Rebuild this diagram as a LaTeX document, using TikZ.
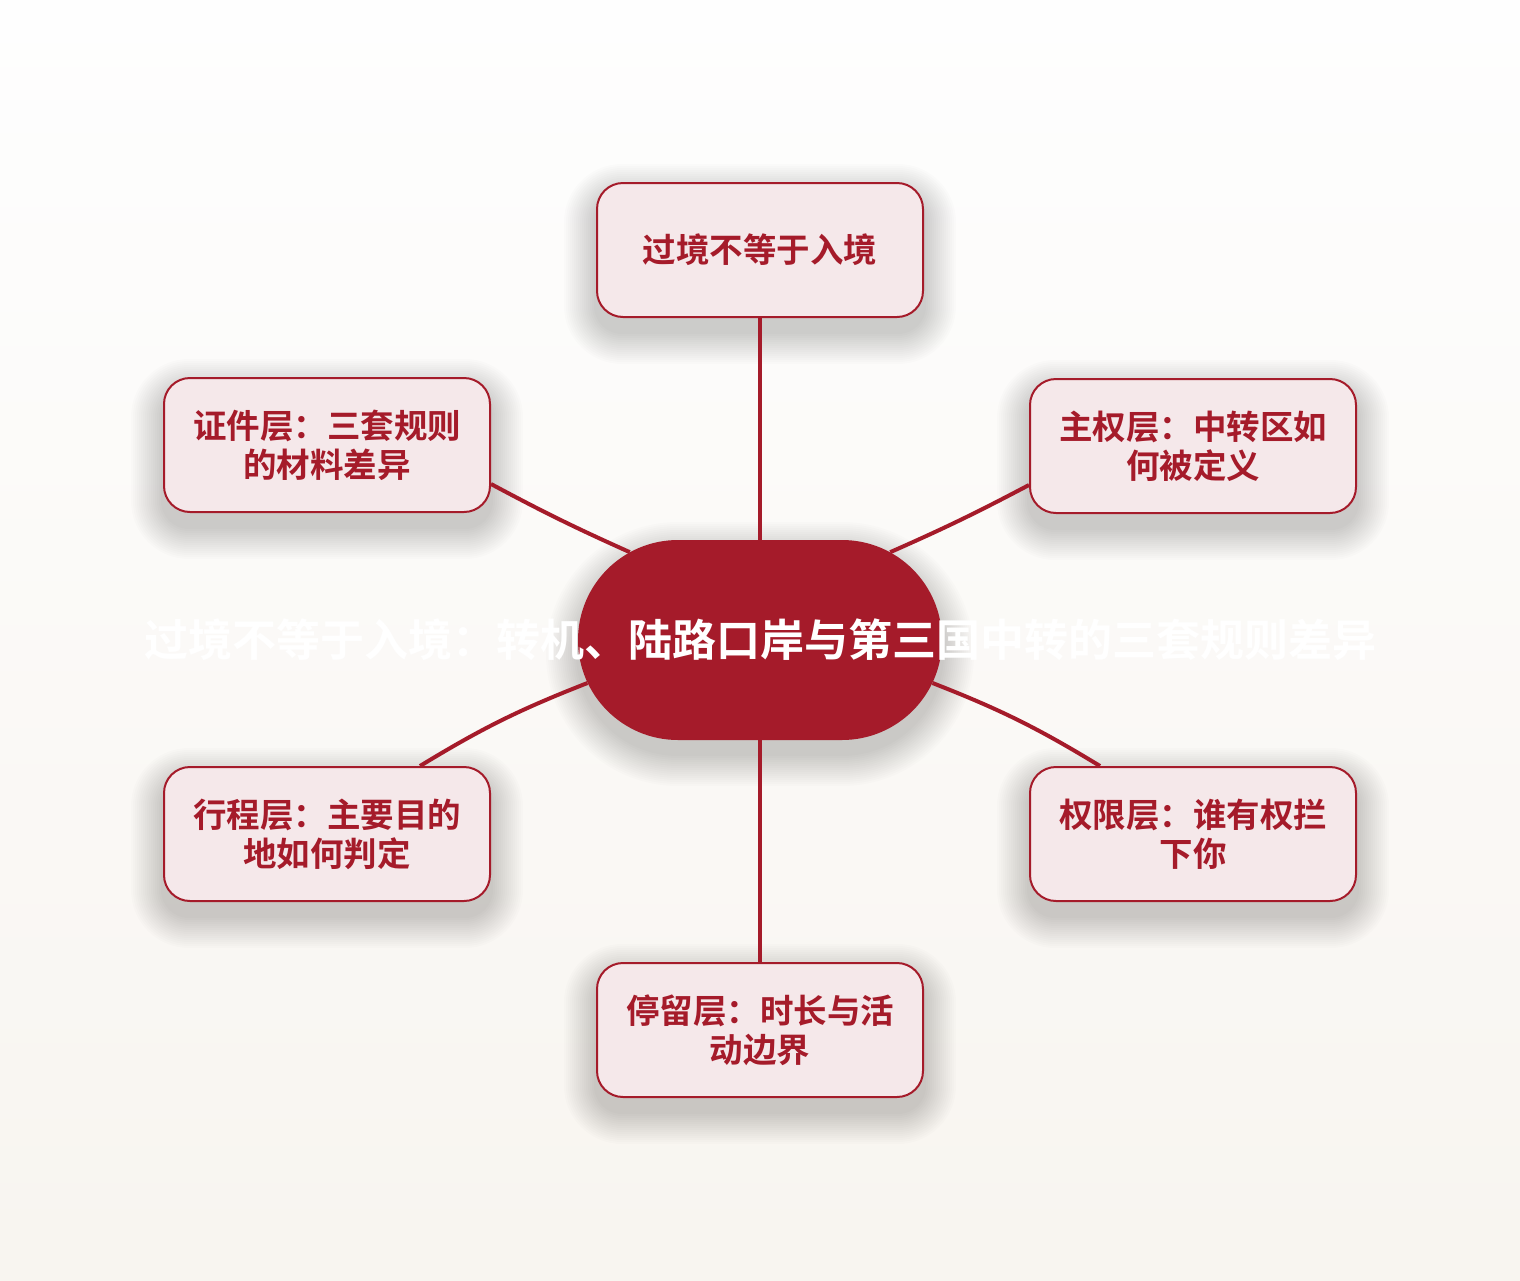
\documentclass[tikz,border=0pt]{standalone}
\usepackage{fontspec}
\setmainfont{Noto Sans CJK SC}[BoldFont={Noto Sans CJK SC Bold}]
\usetikzlibrary{positioning}
\usetikzlibrary{shapes.misc}
\definecolor{mred}{rgb}{0.647, 0.106, 0.165}
\definecolor{mpink}{rgb}{0.961, 0.910, 0.918}
\definecolor{mtop}{rgb}{0.996, 0.996, 0.996}
\definecolor{mbottom}{rgb}{0.972, 0.960, 0.940}
\pgfdeclarelayer{shade}
\pgfsetlayers{shade,main}
\tikzset{layerbox/.style = {draw=mred, line width=2pt, fill=mpink,
                            rounded corners=26pt, minimum width=326pt, minimum height=134pt,
                            align=center, text=mred,
                            font=\fontsize{33.5}{39}\selectfont\bfseries}}
\tikzset{hub/.style = {rounded rectangle, fill=mred, minimum width=364pt, minimum height=200pt,
                       inner sep=0pt, text=white,
                       font=\fontsize{44}{50}\selectfont\bfseries}}
\tikzset{link/.style = {draw=mred, line width=4pt}}
\tikzset{haze/.style = {fill=black, opacity=0.010}}

\begin{document}
\begin{tikzpicture}[x=1pt, y=-1pt]
      \node [hub] (hub) at (760, 640) {\makebox[0pt]{过境不等于入境：转机、陆路口岸与第三国中转的三套规则差异}};

      \node [layerbox] (entry) at (760, 250) {过境不等于入境};
      \node [layerbox] (docs) at (327, 445) {证件层：三套规则\\的材料差异};
      \node [layerbox] (sover) at (1193, 446) {主权层：中转区如\\何被定义};
      \node [layerbox] (route) at (327, 834) {行程层：主要目的\\地如何判定};
      \node [layerbox] (power) at (1193, 834) {权限层：谁有权拦\\下你};
      \node [layerbox] (stay) at (760, 1030) {停留层：时长与活\\动边界};

      \begin{pgfonlayer}{shade}
        \fill [top color=mtop, bottom color=mbottom] (0, 0) rectangle (1520, 1280);
        % soft shadows under the boxes
        \foreach \b in {entry, docs, sover, route, power, stay} {
          \foreach \s in {2, 4, ..., 32} {
            \fill [haze, rounded corners=26pt + \s pt]
              ([shift={(-\s, -\s + 14)}]\b.north west) rectangle ([shift={(\s, \s + 14)}]\b.south east);
          }
        }
        % and under the hub
        \foreach \s in {2, 4, ..., 32} {
          \fill [haze] (678, 654 - 100 - \s) -- (842, 654 - 100 - \s)
            arc [start angle=-90, end angle=90, radius=100 + \s]
            -- (678, 654 + 100 + \s)
            arc [start angle=90, end angle=270, radius=100 + \s] -- cycle;
        }
      \end{pgfonlayer}
      \useasboundingbox (0, 0) rectangle (1520, 1280);

      \draw [link] (hub.north) -- (entry.south);
      \draw [link] (hub.146) to [bend left=2] ([yshift=-39pt]docs.east);
      \draw [link] (hub.34) to [bend right=2] ([yshift=-39pt]sover.west);
      \draw [link] (hub.194) to [bend right=5] ([xshift=93pt]route.north);
      \draw [link] (hub.346) to [bend left=5] ([xshift=-93pt]power.north);
      \draw [link] (hub.south) -- (stay.north);
    \end{tikzpicture}
\end{document}
